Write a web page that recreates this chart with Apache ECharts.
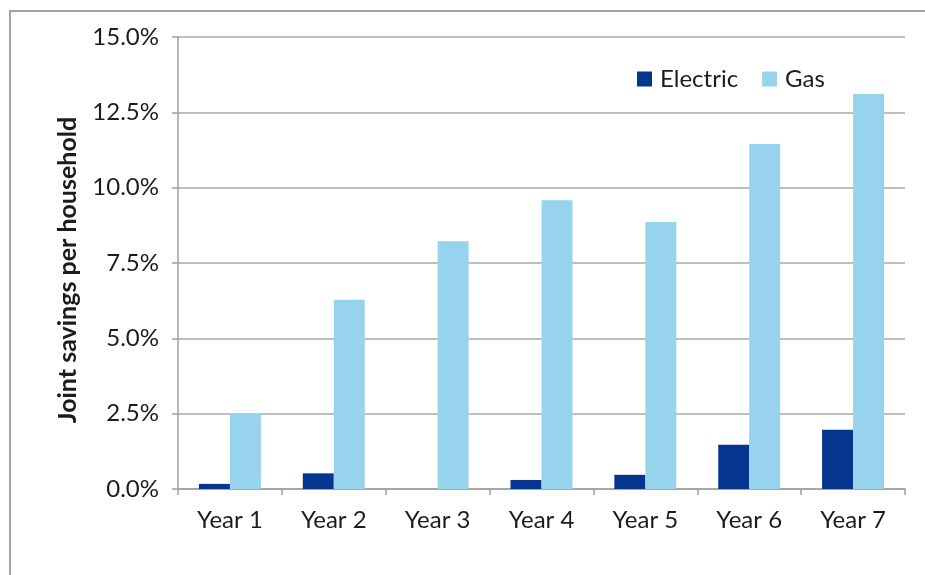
<!DOCTYPE html>
<html>
<head>
<meta charset="utf-8">
<script src="https://cdn.jsdelivr.net/npm/echarts@6/dist/echarts.min.js"></script>
<style>
  html, body { margin: 0; padding: 0; background: #ffffff; }
  #chart { width: 925px; height: 575px; }
</style>
</head>
<body>
<div id="chart"></div>
<script>
// Joint savings per household by year, electric vs gas (percent)
const years = ['Year 1', 'Year 2', 'Year 3', 'Year 4', 'Year 5', 'Year 6', 'Year 7'];
const electric = [0.17, 0.52, 0, 0.30, 0.47, 1.47, 1.97];
const gas = [2.52, 6.28, 8.22, 9.58, 8.86, 11.45, 13.11];

const FONT = 'Lato, "Open Sans", sans-serif';
const TEXT = '#1c1c1c';
const chart = echarts.init(document.getElementById('chart'));

chart.setOption({
  animation: false,
  backgroundColor: '#ffffff',
  textStyle: { fontFamily: FONT },
  graphic: [{
    type: 'rect',
    shape: { x: 10, y: 11, width: 1000, height: 1000 },
    style: { fill: 'none', stroke: '#a3a3a3', lineWidth: 2 },
    silent: true
  }],
  grid: { left: 178, right: 20, top: 37, bottom: 86, containLabel: false },
  legend: {
    left: 632, top: 62,
    itemWidth: 15, itemHeight: 15, itemGap: 24,
    icon: 'rect',
    textStyle: { fontFamily: FONT, fontSize: 24, color: TEXT, padding: [0, 0, 0, 3] },
    data: ['Electric', 'Gas']
  },
  xAxis: {
    type: 'category',
    data: years,
    axisLine: { lineStyle: { color: '#9e9e9e', width: 1.5 } },
    axisTick: { show: true, length: 6, lineStyle: { color: '#9e9e9e', width: 1.5 } },
    axisLabel: { fontFamily: FONT, fontSize: 24, color: TEXT, margin: 19 }
  },
  yAxis: {
    type: 'value',
    min: 0, max: 15, interval: 2.5,
    name: 'Joint savings per household',
    nameLocation: 'middle',
    nameGap: 98,
    nameTextStyle: {
      fontFamily: FONT, fontSize: 25, fontWeight: 'bold', color: TEXT,
      padding: [0, 14, 0, 0]
    },
    axisLine: { show: true, lineStyle: { color: '#9e9e9e', width: 1.5 } },
    axisTick: { show: true, length: 6, lineStyle: { color: '#9e9e9e', width: 1.5 } },
    splitLine: { lineStyle: { color: '#a8a8a8', width: 1.5 } },
    axisLabel: {
      fontFamily: FONT, fontSize: 24, color: TEXT, margin: 19,
      formatter: v => v.toFixed(1) + '%'
    }
  },
  series: [
    {
      name: 'Electric', type: 'bar', data: electric,
      itemStyle: { color: '#06358f' },
      barWidth: 31, barGap: '0%'
    },
    {
      name: 'Gas', type: 'bar', data: gas,
      itemStyle: { color: '#98d3ee' },
      barWidth: 31, barGap: '0%'
    }
  ]
});
</script>
</body>
</html>
